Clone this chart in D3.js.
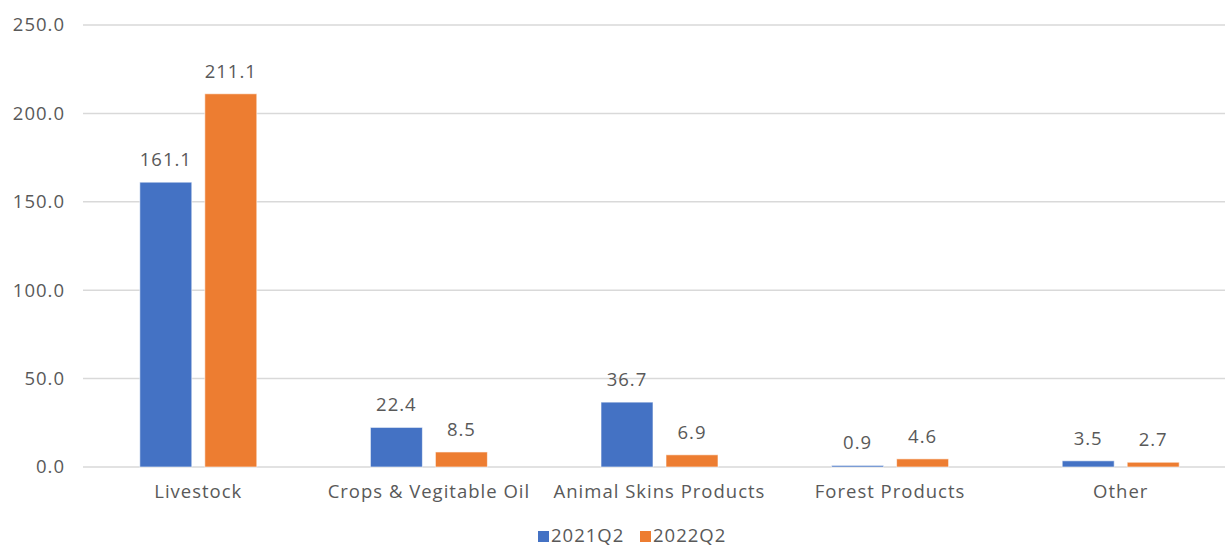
<!DOCTYPE html>
<html>
<head>
<meta charset="utf-8">
<script src="https://cdn.jsdelivr.net/npm/d3@7"></script>
<style>
  html, body { margin: 0; padding: 0; background: #ffffff; overflow: hidden; }
  svg text { font-family: "Open Sans", "Lato", sans-serif; fill: #595959; letter-spacing: 1px; }
</style>
</head>
<body>
<svg id="chart" width="1225" height="546"></svg>
<script>
// Export values by product group, quarter-on-quarter
const categories = ["Livestock", "Crops & Vegitable Oil", "Animal Skins Products", "Forest Products", "Other"];
const seriesNames = ["2021Q2", "2022Q2"];
const values2021Q2 = [161.1, 22.4, 36.7, 0.9, 3.5];
const values2022Q2 = [211.1, 8.5, 6.9, 4.6, 2.7];
const yTicks = [0, 50, 100, 150, 200, 250];
const colors = ["#4472c4", "#ed7d31"];

const series = [values2021Q2, values2022Q2];

const svg = d3.select("#chart");
const margin = { left: 83, right: 1236, top: 25, bottom: 467 };
const fontSize = 18.5;

const x = d3.scaleBand().domain(categories).range([margin.left, margin.right]).paddingInner(0).paddingOuter(0);
const groupW = 117;
const xs = d3.scaleBand().domain(seriesNames).range([0, groupW]).paddingInner(0.2).paddingOuter(0);
const y = d3.scaleLinear().domain([0, 250]).range([margin.bottom, margin.top]);

// Gridlines
svg.append("g").selectAll("line").data(yTicks).join("line")
  .attr("x1", margin.left).attr("x2", margin.right)
  .attr("y1", d => y(d)).attr("y2", d => y(d))
  .attr("stroke", "#d9d9d9").attr("stroke-width", 1.5);

// Y axis labels
svg.append("g").selectAll("text").data(yTicks).join("text")
  .attr("x", 65).attr("y", d => y(d)).attr("dy", "0.35em")
  .attr("text-anchor", "end").attr("font-size", fontSize)
  .text(d => d3.format(".1f")(d));

// Bars
const groups = svg.append("g").selectAll("g").data(categories).join("g")
  .attr("transform", d => `translate(${x(d) + (x.bandwidth() - groupW) / 2},0)`);

groups.each(function(cat, i) {
  const g = d3.select(this);
  seriesNames.forEach((s, j) => {
    const v = series[j][i];
    g.append("rect")
      .attr("x", xs(s)).attr("width", xs.bandwidth())
      .attr("y", y(v)).attr("height", y(0) - y(v))
      .attr("fill", colors[j])
      .attr("stroke", "#ffffff").attr("stroke-opacity", 0.6).attr("stroke-width", 1);
    g.append("text")
      .attr("x", xs(s) + xs.bandwidth() / 2)
      .attr("y", y(v) - 16)
      .attr("text-anchor", "middle").attr("font-size", fontSize)
      .text(d3.format(".1f")(v));
  });
});

// Category labels
svg.append("g").selectAll("text").data(categories).join("text")
  .attr("x", d => x(d) + x.bandwidth() / 2).attr("y", 498)
  .attr("text-anchor", "middle").attr("font-size", fontSize)
  .text(d => d);

// Legend
const legend = svg.append("g");
const legendX = [538, 640];
seriesNames.forEach((s, j) => {
  legend.append("rect").attr("x", legendX[j]).attr("y", 531).attr("width", 11).attr("height", 11).attr("fill", colors[j]);
  legend.append("text").attr("x", legendX[j] + 13).attr("y", 541.5)
    .attr("font-size", fontSize).text(s);
});
</script>
</body>
</html>
